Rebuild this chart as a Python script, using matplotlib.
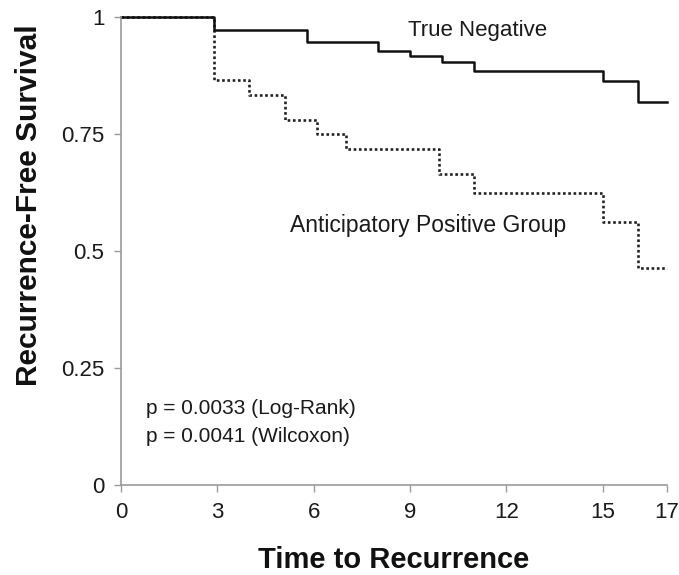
import matplotlib
matplotlib.use("Agg")
import matplotlib.pyplot as plt

plt.rcParams['font.family'] = ['Liberation Sans', 'DejaVu Sans']

# Kaplan-Meier steps
tn_times = [0, 2.9, 5.8, 8.0, 9.0, 10.0, 11.0, 15.0, 16.1, 17]
tn_surv = [1.0, 0.972, 0.947, 0.927, 0.917, 0.903, 0.885, 0.863, 0.819, 0.819]

apg_times = [0, 2.9, 4.0, 5.1, 6.1, 7.0, 9.9, 11.0, 15.0, 16.1, 17]
apg_surv = [1.0, 0.865, 0.833, 0.781, 0.75, 0.717, 0.665, 0.625, 0.563, 0.463, 0.463]

x_ticks = [0, 3, 6, 9, 12, 15, 17]
y_ticks = [0, 0.25, 0.5, 0.75, 1]
y_ticklabels = ['0', '0.25', '0.5', '0.75', '1']

fig = plt.figure(figsize=(6.79, 5.75), dpi=100)
ax = fig.add_axes([0.1782, 0.1565, 0.8041, 0.8139])

ax.step(apg_times, apg_surv, where='post', color='#222222', lw=1.9,
        linestyle=(0, (1, 1)), clip_on=False)
ax.step(tn_times, tn_surv, where='post', color='#111111', lw=1.8,
        clip_on=False)

ax.set_xlim(0, 17)
ax.set_ylim(0, 1)
ax.set_xticks(x_ticks)
ax.set_yticks(y_ticks)
ax.set_yticklabels(y_ticklabels)

for s in ['top', 'right']:
    ax.spines[s].set_visible(False)
for s in ['left', 'bottom']:
    ax.spines[s].set_color('#9a9a9a')
    ax.spines[s].set_linewidth(1.2)

ax.tick_params(axis='both', direction='out', length=5, width=1,
               color='#9a9a9a', labelsize=16, labelcolor='#1a1a1a', pad=7)

ax.set_xlabel('Time to Recurrence', fontsize=21, fontweight='bold',
              color='#111111')
ax.set_ylabel('Recurrence-Free Survival', fontsize=21.5, fontweight='bold',
              color='#111111')
ax.xaxis.set_label_coords(0.5, -0.131)
ax.yaxis.set_label_coords(-0.143, 0.598)

ax.text(8.94, 0.959, 'True Negative', fontsize=16, color='#1a1a1a')
ax.text(5.26, 0.541, 'Anticipatory Positive Group', fontsize=16.5,
        color='#1a1a1a')
ax.text(0.78, 0.1517, 'p = 0.0033 (Log-Rank)', fontsize=15, color='#1a1a1a')
ax.text(0.78, 0.0925, 'p = 0.0041 (Wilcoxon)', fontsize=15, color='#1a1a1a')

fig.savefig('out.png', dpi=100)
